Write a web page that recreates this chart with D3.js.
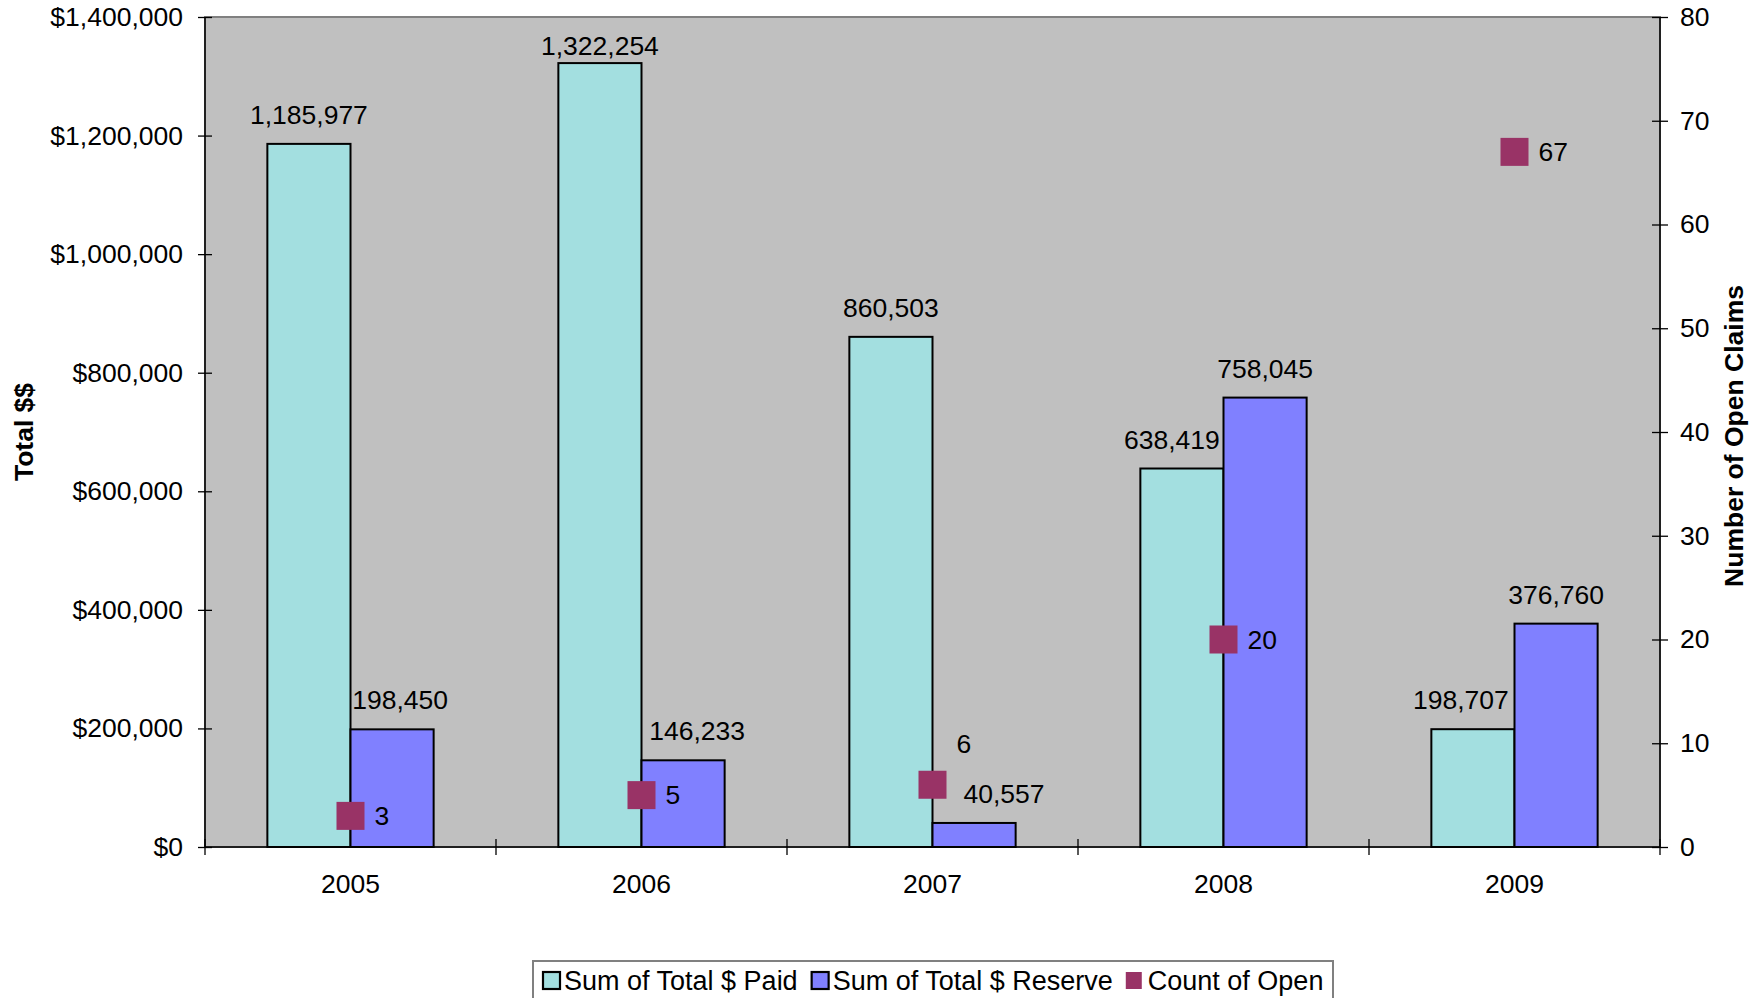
<!DOCTYPE html>
<html>
<head>
<meta charset="utf-8">
<script src="https://cdn.jsdelivr.net/npm/d3@7"></script>
<style>
  html, body { margin: 0; padding: 0; background: #fff; }
  svg { display: block; font-family: Arial, "Liberation Sans", sans-serif; }
</style>
</head>
<body>
<svg id="chart" width="1763" height="998"></svg>
<script>
// ---- data ----
const years = ["2005", "2006", "2007", "2008", "2009"];
const totalPaid = [1185977, 1322254, 860503, 638419, 198707];
const totalReserve = [198450, 146233, 40557, 758045, 376760];
const openCount = [3, 5, 6, 20, 67];
const leftTicks = [0, 200000, 400000, 600000, 800000, 1000000, 1200000, 1400000];
const rightTicks = [0, 10, 20, 30, 40, 50, 60, 70, 80];
const seriesNames = ["Sum of Total $ Paid", "Sum of Total $ Reserve", "Count of Open"];

// ---- label placement tweaks (mimic Excel's collision nudges) ----
const paidLabelNudge = [0, 0, 0, -10, -12];
const paidLabelLift = [20, 8, 20, 20, 20];
const reserveLabelNudge = [8, 14, 30, 0, 0];
const countLabelSide = ["right", "right", "above", "right", "right"];

// ---- layout / style ----
const plot = { left: 205, right: 1660, top: 17, bottom: 847 };
const colPaid = "#A3DFE0", colReserve = "#8080FF", colCount = "#993366";
const FS = 26.5;
const LFS = 27;

const svg = d3.select("#chart");

const x = d3.scaleBand().domain(years).range([plot.left, plot.right]).paddingInner(0).paddingOuter(0);
const xs = d3.scaleBand().domain(["paid", "reserve"]).range([0, x.bandwidth()]).paddingInner(0).paddingOuter(0.75);
const yL = d3.scaleLinear().domain([0, 1400000]).range([plot.bottom, plot.top]);
const yR = d3.scaleLinear().domain([0, 80]).range([plot.bottom, plot.top]);

// plot background
svg.append("rect")
  .attr("x", plot.left).attr("y", plot.top)
  .attr("width", plot.right - plot.left).attr("height", plot.bottom - plot.top)
  .attr("fill", "#C0C0C0").attr("stroke", "#808080").attr("stroke-width", 2);

const rows = years.map((y, i) => ({ year: y, i, paid: totalPaid[i], reserve: totalReserve[i], count: openCount[i] }));

const g = svg.append("g");
g.selectAll("rect.paid").data(rows).join("rect")
  .attr("class", "paid")
  .attr("x", d => x(d.year) + xs("paid"))
  .attr("y", d => yL(d.paid))
  .attr("width", xs.bandwidth())
  .attr("height", d => yL(0) - yL(d.paid))
  .attr("fill", colPaid).attr("stroke", "#000").attr("stroke-width", 2);

g.selectAll("rect.reserve").data(rows).join("rect")
  .attr("class", "reserve")
  .attr("x", d => x(d.year) + xs("reserve"))
  .attr("y", d => yL(d.reserve))
  .attr("width", xs.bandwidth())
  .attr("height", d => yL(0) - yL(d.reserve))
  .attr("fill", colReserve).attr("stroke", "#000").attr("stroke-width", 2);

const fmt = d3.format(",");
g.selectAll("text.plab").data(rows).join("text")
  .attr("x", d => x(d.year) + xs("paid") + xs.bandwidth() / 2 + paidLabelNudge[d.i])
  .attr("y", d => yL(d.paid) - paidLabelLift[d.i])
  .attr("text-anchor", "middle").attr("font-size", FS).attr("fill", "#000")
  .text(d => fmt(d.paid));
g.selectAll("text.rlab").data(rows).join("text")
  .attr("x", d => x(d.year) + xs("reserve") + xs.bandwidth() / 2 + reserveLabelNudge[d.i])
  .attr("y", d => yL(d.reserve) - 20)
  .attr("text-anchor", "middle").attr("font-size", FS).attr("fill", "#000")
  .text(d => fmt(d.reserve));

// axes lines
const axisG = svg.append("g");
axisG.append("line").attr("x1", plot.left).attr("x2", plot.left).attr("y1", plot.top).attr("y2", plot.bottom)
  .attr("stroke", "#000").attr("stroke-width", 1.5);
axisG.append("line").attr("x1", plot.right).attr("x2", plot.right).attr("y1", plot.top).attr("y2", plot.bottom)
  .attr("stroke", "#000").attr("stroke-width", 1.5);
axisG.append("line").attr("x1", plot.left).attr("x2", plot.right).attr("y1", plot.bottom).attr("y2", plot.bottom)
  .attr("stroke", "#000").attr("stroke-width", 1.5);

// left axis
const leftAxis = d3.axisLeft(yL).tickValues(leftTicks).tickFormat(d3.format("$,")).tickSize(7).tickPadding(15);
const la = svg.append("g").attr("transform", `translate(${plot.left},0)`).call(leftAxis);
la.select(".domain").remove();
la.selectAll(".tick line").attr("x1", 7).attr("stroke", "#000").attr("stroke-width", 1.3);
la.selectAll(".tick text").attr("font-size", FS).attr("font-family", "Arial, 'Liberation Sans', sans-serif").attr("fill", "#000");

// right axis
const rightAxis = d3.axisRight(yR).tickValues(rightTicks).tickSize(8).tickPadding(12);
const ra = svg.append("g").attr("transform", `translate(${plot.right},0)`).call(rightAxis);
ra.select(".domain").remove();
ra.selectAll(".tick line").attr("x1", -8).attr("stroke", "#000").attr("stroke-width", 1.3);
ra.selectAll(".tick text").attr("font-size", FS).attr("font-family", "Arial, 'Liberation Sans', sans-serif").attr("fill", "#000");

// bottom axis: ticks at category boundaries, labels at centres
const bounds = years.map(y => x(y)).concat([x.range()[1]]);
svg.append("g").selectAll("line").data(bounds).join("line")
  .attr("x1", d => d).attr("x2", d => d)
  .attr("y1", plot.bottom - 8).attr("y2", plot.bottom + 8)
  .attr("stroke", "#000").attr("stroke-width", 1.3);
svg.append("g").selectAll("text").data(years).join("text")
  .attr("x", d => x(d) + x.bandwidth() / 2)
  .attr("y", 893)
  .attr("text-anchor", "middle").attr("font-size", FS).attr("fill", "#000")
  .text(d => d);

// count markers
const ms = 28;
g.selectAll("rect.cnt").data(rows).join("rect")
  .attr("x", d => x(d.year) + x.bandwidth() / 2 - ms / 2)
  .attr("y", d => yR(d.count) - ms / 2)
  .attr("width", ms).attr("height", ms)
  .attr("fill", colCount);
g.selectAll("text.clab").data(rows).join("text")
  .attr("x", d => x(d.year) + x.bandwidth() / 2 + 24)
  .attr("y", d => countLabelSide[d.i] === "above" ? yR(d.count) - 32 : yR(d.count) + 9)
  .attr("font-size", FS).attr("fill", "#000")
  .text(d => d.count);

// axis titles
svg.append("text")
  .attr("transform", `translate(33,${(plot.top + plot.bottom) / 2}) rotate(-90)`)
  .attr("text-anchor", "middle").attr("font-size", FS).attr("font-weight", "bold")
  .text("Total $$");
svg.append("text")
  .attr("transform", `translate(1743,${(plot.top + plot.bottom) / 2 + 4}) rotate(-90)`)
  .attr("text-anchor", "middle").attr("font-size", FS).attr("font-weight", "bold")
  .text("Number of Open Claims");

// legend
const leg = svg.append("g");
leg.append("rect").attr("x", 533).attr("y", 961).attr("width", 800).attr("height", 60)
  .attr("fill", "#fff").attr("stroke", "#808080").attr("stroke-width", 2);
let cx = 542;
const legColors = [colPaid, colReserve, colCount];
seriesNames.forEach((name, i) => {
  if (i < 2) {
    leg.append("rect").attr("x", cx + 1).attr("y", 972).attr("width", 17).attr("height", 17)
      .attr("fill", legColors[i]).attr("stroke", "#000").attr("stroke-width", 2.2);
  } else {
    leg.append("rect").attr("x", cx).attr("y", 972).attr("width", 16).attr("height", 17)
      .attr("fill", legColors[i]);
  }
  cx += 22;
  const t = leg.append("text").attr("x", cx).attr("y", 990).attr("font-size", LFS).attr("fill", "#000").text(name);
  cx += t.node().getComputedTextLength() + 13;
});
</script>
</body>
</html>
